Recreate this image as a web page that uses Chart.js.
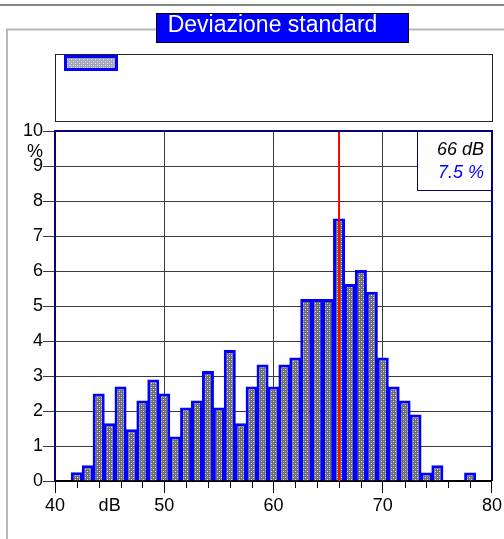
<!DOCTYPE html>
<html><head><meta charset="utf-8">
<script src="https://cdn.jsdelivr.net/npm/chart.js@4"></script>
<style>html,body{margin:0;padding:0;background:#fff}canvas{display:block}</style>
</head><body>
<canvas id="c" width="504" height="539"></canvas>
<script>
// ---- data ----
const levels = [40,41,42,43,44,45,46,47,48,49,50,51,52,53,54,55,56,57,58,59,60,61,62,63,64,65,66,67,68,69,70,71,72,73,74,75,76,77,78,79];
const percent = [0,0,0.25,0.45,2.5,1.65,2.7,1.48,2.3,2.9,2.5,1.27,2.1,2.3,3.14,2.1,3.74,1.65,2.7,3.33,2.7,3.33,3.53,5.2,5.2,5.2,7.5,5.63,6.03,5.41,3.53,2.7,2.3,1.9,0.24,0.45,0,0,0.24,0];
const xMajorTicks = [40,50,60,70,80];
const xMinorTicks = [42,44,46,48,52,54,56,58,62,64,66,68,72,74,76,78];
const yTicks = [0,1,2,3,4,5,6,7,8,9,10];
const chartTitle = 'Deviazione standard';
const xUnit = 'dB';
const xUnitAt = 45;
const yUnit = '%';
const markerLevel = 66;
const markerPercent = 7.5;
const markerLevelText = '66 dB';
const markerPercentText = '7.5 %';

const FONT = '"Liberation Sans", Arial, sans-serif';

function makePattern(base, dot, mid){
  const p = document.createElement('canvas'); p.width = 4; p.height = 4;
  const g = p.getContext('2d');
  g.fillStyle = base; g.fillRect(0,0,4,4);
  g.fillStyle = dot; g.fillRect(1,1,1,1); g.fillRect(3,3,1,1);
  g.fillStyle = mid; g.fillRect(1,3,1,1); g.fillRect(3,1,1,1);
  return g.createPattern(p,'repeat');
}
const barFill = makePattern('#6e6e6e','#dcdcdc','#9a9a9a');
const swatchFill = makePattern('#a4a4b8','#e4e4ee','#c4c4d4');

const decor = {
  id: 'decor',
  beforeDraw(chart){
    const c = chart.ctx;
    c.save();
    c.fillStyle = '#fff'; c.fillRect(0,0,chart.width,chart.height);
    // top rule
    c.strokeStyle = '#858585'; c.lineWidth = 2;
    c.beginPath(); c.moveTo(0,5); c.lineTo(504,5); c.stroke();
    // outer frame
    c.strokeStyle = '#b8b8b8'; c.lineWidth = 2;
    c.beginPath(); c.moveTo(7,539); c.lineTo(7,29.5); c.lineTo(504,29.5); c.stroke();
    // title box
    c.fillStyle = '#0000ff'; c.fillRect(156,13,253,30);
    c.strokeStyle = '#000'; c.lineWidth = 1; c.strokeRect(156.5,13.5,252,29);
    c.fillStyle = '#fff'; c.font = '23px ' + FONT; c.textAlign = 'center'; c.textBaseline = 'alphabetic';
    c.fillText(chartTitle, 272.5, 31.5);
    // legend box
    c.strokeStyle = '#222'; c.lineWidth = 1; c.strokeRect(55.5,54.5,437,67);
    c.fillStyle = '#0000ff'; c.fillRect(64,55,54,16);
    c.fillStyle = swatchFill; c.fillRect(67,58,48,10);
    c.restore();
  },
  afterDatasetsDraw(chart){
    const c = chart.ctx, a = chart.chartArea, xs = chart.scales.x, ys = chart.scales.y;
    c.save();
    // marker line
    const mx = xs.getPixelForValue(markerLevel);
    c.strokeStyle = '#ff0000'; c.lineWidth = 2;
    c.beginPath(); c.moveTo(mx, a.top); c.lineTo(mx, a.bottom); c.stroke();
    // top and right border
    c.strokeStyle = '#000080'; c.lineWidth = 2;
    c.beginPath(); c.moveTo(a.left, a.top); c.lineTo(a.right, a.top); c.lineTo(a.right, a.bottom); c.stroke();
    // info box
    c.fillStyle = '#fff'; c.fillRect(417.5, a.top+1, a.right-417.5-1, 59);
    c.strokeStyle = '#000080'; c.lineWidth = 1;
    c.beginPath(); c.moveTo(417.5, a.top); c.lineTo(417.5, a.top+59.5); c.lineTo(a.right, a.top+59.5); c.stroke();
    c.font = 'italic 18px ' + FONT; c.textAlign = 'right'; c.textBaseline = 'alphabetic';
    c.fillStyle = '#000'; c.fillText(markerLevelText, 484, a.top+24);
    c.fillStyle = '#0000ff'; c.fillText(markerPercentText, 484, a.top+47);
    // y unit
    c.fillStyle = '#000'; c.font = '18px ' + FONT; c.textAlign = 'right';
    c.fillText(yUnit, 43, a.top+26);
    // minor x ticks
    c.strokeStyle = '#000'; c.lineWidth = 1;
    c.beginPath();
    xMinorTicks.forEach(v => { const px = Math.round(xs.getPixelForValue(v)) + 0.5; c.moveTo(px, a.bottom); c.lineTo(px, a.bottom+7); });
    c.stroke();
    c.restore();
  }
};

new Chart(document.getElementById('c'), {
  type: 'bar',
  data: {
    datasets: [{
      data: levels.map((l,i) => ({x: l, y: percent[i]})),
      backgroundColor: barFill,
      borderColor: '#0000ff',
      borderWidth: 3,
      borderSkipped: 'start',
      barPercentage: 1.1,
      categoryPercentage: 1
    }]
  },
  options: {
    responsive: false,
    animation: false,
    events: [],
    layout: { padding: { left: 0, top: 131, right: 11, bottom: 0 } },
    plugins: { legend: { display: false }, tooltip: { enabled: false }, title: { display: false } },
    scales: {
      x: {
        type: 'linear', min: 40, max: 80, offset: false,
        afterFit(s){ s.height = 58; },
        afterBuildTicks(s){ s.ticks = xMajorTicks.concat([xUnitAt]).sort((p,q)=>p-q).map(v => ({value: v})); },
        ticks: {
          autoSkip: false, maxRotation: 0, padding: 2,
          color: '#000', font: { family: FONT, size: 18 },
          callback: v => v === xUnitAt ? xUnit : String(v)
        },
        grid: {
          offset: false, drawOnChartArea: true, tickLength: 12, lineWidth: 1,
          color: ctx => (ctx.tick && ctx.tick.value === xUnitAt) ? 'rgba(0,0,0,0)' : '#3a3a3a',
          tickColor: ctx => (ctx.tick && ctx.tick.value === xUnitAt) ? 'rgba(0,0,0,0)' : '#000'
        },
        border: { display: true, color: '#000', width: 2 }
      },
      y: {
        type: 'linear', min: 0, max: 10,
        afterFit(s){ s.width = 55; },
        afterBuildTicks(s){ s.ticks = yTicks.map(v => ({value: v})); },
        ticks: { padding: 0, color: '#000', font: { family: FONT, size: 18 } },
        grid: { tickLength: 12, color: '#3a3a3a', tickColor: '#3a3a3a', lineWidth: 1 },
        border: { display: true, color: '#000080', width: 2 }
      }
    }
  },
  plugins: [decor]
});
</script>
</body></html>
